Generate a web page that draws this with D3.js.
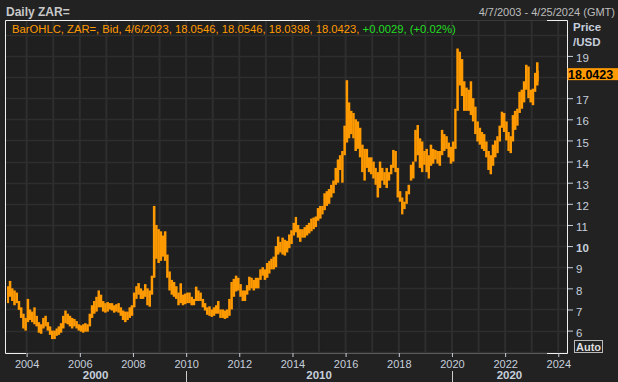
<!DOCTYPE html>
<html>
<head>
<meta charset="utf-8">
<script src="https://cdn.jsdelivr.net/npm/d3@7"></script>
<style>
body { margin: 0; background: #222222; }
svg { display: block; font-family: "Liberation Sans", Arial, sans-serif; }
</style>
</head>
<body>
<svg width="618" height="382"></svg>
<script>
// monthly low / high of the bid, Apr 2003 .. Apr 2023
const lows = [
  7.3, 7.6, 7.4, 7.2, 7.3, 6.98, 6.6, 6.1, 6.0,                          // 2003 (Apr-Dec)
  6.4, 6.5, 6.4, 6.3, 6.2, 5.9, 5.85, 6.1, 6.2, 6.0, 5.8, 5.6,           // 2004
  5.6, 5.75, 5.8, 5.9, 6.1, 6.35, 6.3, 6.2, 6.1, 6.2, 6.1, 6.0,          // 2005
  5.95, 5.9, 5.95, 5.95, 6.2, 6.6, 6.8, 6.9, 7.1, 7.1, 6.9, 6.85,        // 2006
  6.9, 7.0, 6.95, 6.85, 6.9, 6.85, 6.7, 6.5, 6.4, 6.5, 6.6, 6.7,         // 2007
  7.1, 7.5, 7.7, 7.5, 7.5, 7.6, 7.2, 7.13, 7.7, 8.5, 9.4, 9.2,           // 2008
  9.3, 9.5, 9.3, 8.5, 7.9, 7.7, 7.6, 7.5, 7.2, 7.3, 7.2, 7.25,           // 2009
  7.3, 7.3, 7.2, 7.2, 7.4, 7.4, 7.4, 7.1, 6.95, 6.75, 6.7, 6.65,         // 2010
  6.7, 6.8, 6.8, 6.6, 6.6, 6.55, 6.6, 6.7, 7.0, 7.6, 7.85, 7.9,          // 2011
  7.6, 7.4, 7.4, 7.7, 7.9, 8.0, 7.9, 8.0, 8.0, 8.4, 8.6, 8.4,            // 2012
  8.5, 8.7, 8.9, 8.9, 9.0, 9.6, 9.7, 9.6, 9.55, 9.7, 9.9, 10.1,          // 2013
  10.5, 10.65, 10.4, 10.2, 10.4, 10.4, 10.5, 10.6, 10.7, 10.8, 10.9, 11.2, // 2014
  11.3, 11.5, 11.7, 11.9, 12.0, 12.3, 12.5, 12.9, 13.0, 13.6, 13.0, 14.3, // 2015
  14.9, 15.1, 15.3, 15.1, 14.5, 14.6, 14.2, 13.5, 13.1, 13.7, 13.5, 13.4, // 2016
  13.2, 12.9, 12.3, 12.75, 13.1, 12.9, 12.75, 13.1, 13.4, 13.7, 13.5, 12.3, // 2017
  12.1, 11.5, 11.75, 12.0, 12.45, 13.1, 13.2, 14.0, 14.3, 13.7, 13.5, 13.85, // 2018
  13.5, 13.2, 13.8, 13.9, 14.1, 13.9, 13.8, 14.3, 14.5, 14.6, 14.2, 13.9, // 2019
  14.0, 14.6, 16.4, 17.6, 17.1, 16.4, 16.4, 16.4, 16.2, 15.9, 15.3, 14.95, // 2020
  14.8, 14.6, 14.5, 14.2, 13.6, 13.4, 13.8, 14.2, 14.4, 14.95, 15.6, 15.4, // 2021
  15.0, 14.5, 14.4, 14.95, 15.5, 15.7, 16.3, 16.5, 16.8, 17.4, 17.0, 16.8, // 2022
  16.67, 17.3, 17.6, 17.8                                                // 2023 (Jan-Apr)
]
const highs = [
  8.1, 8.35, 8.0, 7.9, 7.8, 7.4, 7.1, 6.8, 6.6,
  7.5, 7.0, 6.9, 7.1, 6.7, 6.4, 6.3, 6.6, 6.7, 6.4, 6.2, 6.0,
  6.0, 6.1, 6.2, 6.35, 6.7, 6.95, 6.8, 6.7, 6.6, 6.55, 6.45, 6.3,
  6.25, 6.3, 6.35, 6.3, 6.8, 7.2, 7.4, 7.6, 7.9, 7.7, 7.4, 7.3,
  7.35, 7.3, 7.3, 7.2, 7.25, 7.3, 7.1, 6.95, 6.9, 6.9, 7.1, 7.2,
  7.8, 8.1, 8.25, 8.0, 7.9, 8.2, 8.0, 7.9, 8.6, 11.9, 11.0, 10.8,
  10.7, 10.5, 10.7, 9.6, 8.8, 8.4, 8.3, 8.1, 7.8, 8.24, 7.7, 7.75,
  7.8, 7.8, 7.6, 7.5, 8.08, 7.9, 7.8, 7.5, 7.3, 7.1, 7.15, 7.0,
  7.1, 7.2, 7.4, 7.0, 7.0, 6.95, 7.0, 7.5, 8.3, 8.45, 8.6, 8.5,
  8.2, 7.9, 7.9, 8.15, 8.55, 8.5, 8.4, 8.5, 8.5, 8.9, 9.0, 8.9,
  9.2, 9.3, 9.4, 9.5, 10.0, 10.45, 10.2, 10.4, 10.3, 10.25, 10.55, 10.75,
  11.1, 11.38, 11.0, 10.8, 10.8, 10.9, 11.0, 11.1, 11.3, 11.35, 11.4, 11.8,
  11.9, 11.9, 12.5, 12.6, 12.7, 12.9, 13.1, 13.7, 14.1, 14.3, 14.5, 15.7,
  17.85, 16.8, 16.4, 16.3, 16.0, 15.9, 15.6, 14.8, 14.6, 14.6, 14.2, 14.2,
  14.0, 13.7, 13.5, 14.0, 13.7, 13.5, 13.7, 13.5, 13.85, 14.55, 14.5, 13.7,
  12.6, 12.3, 12.1, 12.6, 12.9, 13.85, 14.0, 15.5, 15.73, 15.1, 14.95, 14.5,
  14.6, 14.3, 14.8, 14.6, 14.55, 14.5, 14.5, 15.5, 15.3, 15.2, 14.9, 14.7,
  14.95, 16.5, 19.35, 19.2, 18.85, 17.8, 17.5, 17.4, 17.8, 17.0, 16.6, 15.9,
  15.6, 15.4, 15.3, 14.95, 14.5, 14.3, 14.8, 15.0, 15.2, 15.7, 16.36, 16.3,
  15.9, 15.4, 15.2, 16.2, 16.4, 16.5, 17.3, 17.4, 17.8, 18.58, 18.5, 17.4,
  17.45, 18.2, 18.7, 18.3
]
const priceTicks = [6, 7, 8, 9, 10, 11, 12, 13, 14, 15, 16, 17, 19]
const yearTicks = [2004, 2006, 2008, 2010, 2012, 2014, 2016, 2018, 2020, 2022, 2024]
const decades = [2000, 2010, 2020]
const legendMain = "BarOHLC, ZAR=, Bid, 4/6/2023, 18.0546, 18.0546, 18.0398, 18.0423, "
const legendChange = "+0.0029, (+0.02%)"
const lastQuote = 18.0423

const svg = d3.select("svg")
const width = +svg.attr("width")

const plot = {left: 5, right: 567, top: 20, bottom: 353}
const dataStart = new Date(2003, 3, 7), dataEnd = new Date(2023, 3, 7)

const months = d3.timeMonth.range(new Date(2003, 3, 1), new Date(2023, 4, 1))
const data = months.map((m, i) => ({
  start: m < dataStart ? dataStart : m,
  end: d3.min([d3.timeMonth.offset(m, 1), dataEnd]),
  low: lows[i], high: highs[i]
}))

const x = d3.scaleTime()
  .domain([new Date(2003, 2, 10), new Date(2024, 3, 30)])
  .range([plot.left, plot.right])
const y = d3.scaleLinear()
  .domain([4.94, 20.7])
  .range([plot.bottom, plot.top])

// plot background + grid
svg.append("rect")
  .attr("x", plot.left).attr("y", plot.top)
  .attr("width", plot.right - plot.left).attr("height", plot.bottom - plot.top)
  .attr("fill", "#1f1f1f")

const grid = svg.append("g")
grid.selectAll(".gx").data(d3.timeYear.range(new Date(2004, 0, 1), new Date(2024, 0, 2)))
  .join("line")
    .attr("x1", d => x(d)).attr("x2", d => x(d))
    .attr("y1", plot.top).attr("y2", plot.bottom)
    .attr("stroke", "#2e2e2e").attr("stroke-width", 2)
grid.selectAll(".gy").data(d3.range(5, 21))
  .join("line")
    .attr("x1", plot.left).attr("x2", plot.right)
    .attr("y1", d => Math.round(y(d)) + 0.5).attr("y2", d => Math.round(y(d)) + 0.5)
    .attr("stroke", "#2e2e2e").attr("stroke-width", 1.5)

// bars
svg.append("g").selectAll("rect").data(data)
  .join("rect")
    .attr("x", d => x(d.start))
    .attr("width", d => x(d.end) - x(d.start) + 0.3)
    .attr("y", d => y(d.high))
    .attr("height", d => y(d.low) - y(d.high))
    .attr("fill", "#ff9a00")

// frame
svg.append("line").attr("x1", 26).attr("x2", 547).attr("y1", plot.bottom + 0.5).attr("y2", plot.bottom + 0.5)
  .attr("stroke", "#5a5a5a")
svg.append("line").attr("x1", 310).attr("x2", 547).attr("y1", plot.top + 0.5).attr("y2", plot.top + 0.5)
  .attr("stroke", "#3a3a3a")
svg.append("path")
  .attr("d", `M${plot.left + 0.5},${plot.top + 0.5}H310 M547,${plot.top + 0.5}H${plot.right + 0.5}V${plot.bottom + 0.5}H547
              M26,${plot.bottom + 0.5}H${plot.left + 0.5}V${plot.top + 0.5}`)
  .attr("fill", "none").attr("stroke", "#f0f0f0")

// header
svg.append("text").attr("x", 6).attr("y", 16)
  .attr("font-size", 12).attr("font-weight", "bold").attr("fill", "#c8c8c8")
  .text("Daily ZAR=")
svg.append("text").attr("x", width - 3).attr("y", 16).attr("text-anchor", "end")
  .attr("font-size", 11).attr("fill", "#bdbdbd")
  .text("4/7/2003 - 4/25/2024 (GMT)")
const legend = svg.append("text").attr("x", 12).attr("y", 33).attr("font-size", 11.25)
legend.append("tspan").attr("fill", "#ff9a00").text(legendMain)
legend.append("tspan").attr("fill", "#22dd22").text(legendChange)

// right axis
const axisColor = "#c6cfdc"
svg.append("text").attr("x", 573).attr("y", 31)
  .attr("font-size", 11.5).attr("font-weight", "bold").attr("fill", axisColor).text("Price")
svg.append("text").attr("x", 573).attr("y", 46)
  .attr("font-size", 11.5).attr("font-weight", "bold").attr("fill", axisColor).text("/USD")

const yAxis = svg.append("g")
  .attr("transform", `translate(${plot.right + 1},0)`)
  .call(d3.axisRight(y).tickValues(priceTicks).tickSize(5).tickPadding(3).tickFormat(d3.format("d")))
yAxis.select(".domain").remove()
yAxis.selectAll("line").attr("stroke", axisColor)
yAxis.selectAll("text")
  .attr("fill", axisColor).attr("font-size", 11.5).attr("font-family", null)
  .attr("y", 2)
  .attr("font-weight", d => d === 10 ? "bold" : null)

const yq = y(lastQuote)
svg.append("rect").attr("x", plot.right + 0.5).attr("y", yq - 8)
  .attr("width", width - plot.right).attr("height", 12).attr("fill", "#ff9a00")
svg.append("text").attr("x", 568).attr("y", yq + 2.5)
  .attr("font-size", 12.5).attr("font-weight", "bold").attr("fill", "#000")
  .text(d3.format(".4f")(lastQuote))

svg.append("rect").attr("x", 574.5).attr("y", 340.5).attr("width", 28).attr("height", 12)
  .attr("fill", "none").attr("stroke", "#bbbbbb")
svg.append("text").attr("x", 576).attr("y", 350.5)
  .attr("font-size", 11).attr("font-weight", "bold").attr("fill", "#dddddd").text("Auto")

// bottom axis
const xAxis = svg.append("g")
  .attr("transform", `translate(0,${plot.bottom})`)
  .call(d3.axisBottom(x).tickValues(yearTicks.map(yr => new Date(yr, 0, 1)))
    .tickSize(4).tickPadding(3).tickFormat(d3.timeFormat("%Y")))
xAxis.select(".domain").remove()
xAxis.selectAll("line").attr("stroke", axisColor)
xAxis.selectAll("text").attr("fill", axisColor).attr("font-size", 11).attr("font-family", null)

const dec = svg.append("g")
decades.forEach(dc => {
  const a = Math.max(plot.left, x(new Date(dc, 0, 1)))
  const b = Math.min(plot.right, x(new Date(dc + 10, 0, 1)))
  if (x(new Date(dc, 0, 1)) > plot.left) {
    dec.append("line").attr("x1", Math.round(a) + 0.5).attr("x2", Math.round(a) + 0.5)
      .attr("y1", 371).attr("y2", 382).attr("stroke", "#cccccc")
  }
  dec.append("text").attr("x", (a + b) / 2).attr("y", 379).attr("text-anchor", "middle")
    .attr("font-size", 11.5).attr("font-weight", "bold").attr("fill", axisColor).text(dc)
})
</script>
</body>
</html>
